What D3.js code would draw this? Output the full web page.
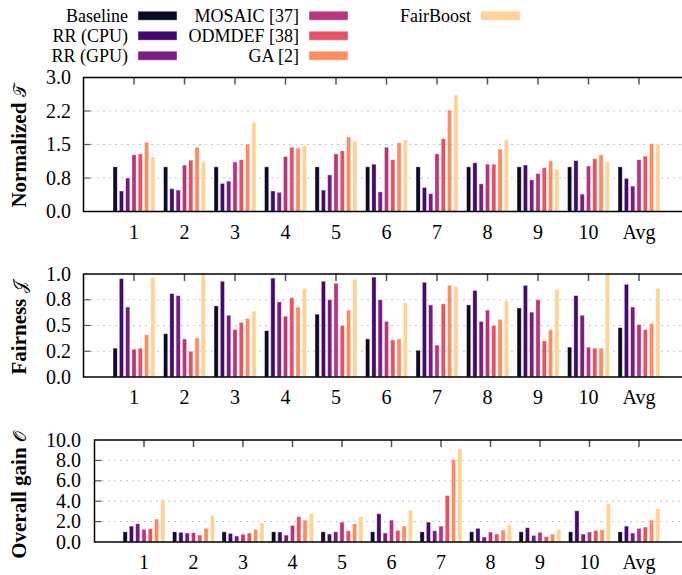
<!DOCTYPE html>
<html>
<head>
<meta charset="utf-8">
<script src="https://cdn.jsdelivr.net/npm/d3@7"></script>
<style>
  body { margin: 0; background: #fff; }
  text { font-family: "Liberation Serif", "Times New Roman", "DejaVu Serif", serif; }
</style>
</head>
<body>
<svg id="chart" width="682" height="575"></svg>
<script>
const groups = ["1", "2", "3", "4", "5", "6", "7", "8", "9", "10", "Avg"];
const methods = ["Baseline", "RR (CPU)", "RR (GPU)", "MOSAIC [37]", "ODMDEF [38]", "GA [2]", "FairBoost"];
const colors = ["#0c0927", "#420a6e", "#7b1c80", "#b5367a", "#e75263", "#fc8c62", "#fed395"];

// one row per method, one value per group
const normalizedT = [
  [1.0, 1.0, 1.0, 1.0, 1.0, 1.0, 1.0, 1.0, 1.0, 1.0, 1.0],
  [0.46, 0.51, 0.63, 0.46, 0.48, 1.06, 0.54, 1.09, 1.04, 1.14, 0.74],
  [0.75, 0.48, 0.68, 0.43, 0.82, 0.44, 0.40, 0.62, 0.71, 0.39, 0.57],
  [1.27, 1.04, 1.11, 1.23, 1.29, 1.44, 1.29, 1.06, 0.85, 1.02, 1.16],
  [1.29, 1.15, 1.16, 1.44, 1.36, 1.16, 1.63, 1.06, 0.98, 1.18, 1.24],
  [1.55, 1.44, 1.51, 1.42, 1.67, 1.54, 2.27, 1.40, 1.13, 1.27, 1.52],
  [1.22, 1.11, 2.00, 1.47, 1.58, 1.60, 2.61, 1.60, 0.95, 1.11, 1.52]
];
const fairness = [
  [0.28, 0.42, 0.69, 0.45, 0.61, 0.37, 0.26, 0.70, 0.67, 0.29, 0.48],
  [0.955, 0.81, 0.93, 0.96, 0.93, 0.97, 0.92, 0.84, 0.89, 0.79, 0.90],
  [0.68, 0.79, 0.60, 0.73, 0.75, 0.75, 0.70, 0.54, 0.63, 0.60, 0.68],
  [0.27, 0.37, 0.46, 0.59, 0.91, 0.54, 0.31, 0.65, 0.75, 0.29, 0.51],
  [0.28, 0.25, 0.53, 0.77, 0.50, 0.36, 0.71, 0.50, 0.35, 0.28, 0.46],
  [0.41, 0.38, 0.57, 0.68, 0.65, 0.37, 0.89, 0.56, 0.46, 0.28, 0.52],
  [0.965, 1.0, 0.64, 0.86, 0.95, 0.72, 0.88, 0.74, 0.85, 1.0, 0.86]
];
const overallGain = [
  [1.0, 1.0, 1.0, 1.0, 1.0, 1.0, 1.0, 1.0, 1.0, 1.0, 1.0],
  [1.56, 0.95, 0.85, 0.98, 0.78, 2.77, 1.95, 1.34, 1.40, 3.06, 1.56],
  [1.79, 0.88, 0.59, 0.68, 1.0, 0.88, 1.10, 0.49, 0.65, 0.78, 0.88],
  [1.24, 0.91, 0.75, 1.63, 1.95, 2.15, 1.56, 0.98, 0.95, 0.98, 1.34],
  [1.30, 0.68, 0.88, 2.51, 1.10, 1.14, 4.56, 0.78, 0.52, 1.14, 1.47],
  [2.25, 1.34, 1.24, 2.15, 1.79, 1.56, 8.08, 1.17, 0.78, 1.20, 2.15],
  [4.17, 2.60, 1.86, 2.80, 2.48, 3.13, 9.09, 1.69, 1.24, 3.75, 3.29]
];

const yTicksT = [0, 0.75, 1.5, 2.25, 3];
const yLabelsT = ["0.0", "0.8", "1.5", "2.2", "3.0"];
const yTicksF = [0, 0.25, 0.5, 0.75, 1];
const yLabelsF = ["0.0", "0.2", "0.5", "0.8", "1.0"];
const yTicksG = [0, 2, 4, 6, 8, 10];
const yLabelsG = ["0.0", "2.0", "4.0", "6.0", "8.0", "10.0"];

const panels = [
  { data: normalizedT, title: "Normalized ", sym: "\u{1D4AF}", domain: [0, 3], ticks: yTicksT, labels: yLabelsT,
    left: 83.5, step: 50.5, top: 77.5, bottom: 211.5, labelX: 71, titleY: 146 },
  { data: fairness, title: "Fairness ", sym: "\u{1D4A5}", domain: [0, 1], ticks: yTicksF, labels: yLabelsF,
    left: 83.5, step: 50.5, top: 274, bottom: 377, labelX: 71, titleY: 328 },
  { data: overallGain, title: "Overall gain ", sym: "\u{1D4AA}", domain: [0, 10], ticks: yTicksG, labels: yLabelsG,
    left: 94.5, step: 49.5, top: 440, bottom: 542, labelX: 81, titleY: 495 }
];

const svg = d3.select("#chart");
const W = 682;

const inner = d3.scaleBand()
  .domain(methods)
  .range([-21, 21])
  .paddingInner(0.32);

panels.forEach((p, pi) => {
  const x = d3.scaleLinear().domain([0, 12]).range([p.left, p.left + 12 * p.step]);
  const y = d3.scaleLinear().domain(p.domain).range([p.bottom, p.top]);
  const g = svg.append("g");

  const clipId = "clip" + pi;
  svg.append("clipPath").attr("id", clipId)
    .append("rect")
    .attr("x", p.left).attr("y", p.top)
    .attr("width", W - p.left).attr("height", p.bottom - p.top);

  // dotted grid
  g.selectAll("line.grid")
    .data(p.ticks.slice(1, -1))
    .enter().append("line")
    .attr("x1", p.left + 8).attr("x2", W)
    .attr("y1", d => y(d)).attr("y2", d => y(d))
    .attr("stroke", "#888").attr("stroke-width", 1)
    .attr("stroke-dasharray", "1,5");

  // y ticks
  g.selectAll("line.ytick")
    .data(p.ticks.slice(1, -1))
    .enter().append("line")
    .attr("x1", p.left).attr("x2", p.left + 7)
    .attr("y1", d => y(d)).attr("y2", d => y(d))
    .attr("stroke", "#555").attr("stroke-width", 1.2);

  // x ticks, top and bottom
  g.selectAll("line.xtick")
    .data(groups)
    .enter().append("line")
    .attr("x1", (d, i) => x(i + 1)).attr("x2", (d, i) => x(i + 1))
    .attr("y1", p.top).attr("y2", p.top + 7)
    .attr("stroke", "#555").attr("stroke-width", 1.5);
  g.selectAll("line.xtickb")
    .data(groups)
    .enter().append("line")
    .attr("x1", (d, i) => x(i + 1)).attr("x2", (d, i) => x(i + 1))
    .attr("y1", p.bottom).attr("y2", p.bottom - 7)
    .attr("stroke", "#555").attr("stroke-width", 1.5);

  // bars
  const bars = g.append("g").attr("clip-path", `url(#${clipId})`);
  p.data.forEach((row, mi) => {
    bars.selectAll(null)
      .data(row)
      .enter().append("rect")
      .attr("x", (d, i) => x(i + 1) + inner(methods[mi]))
      .attr("width", inner.bandwidth())
      .attr("y", d => y(d))
      .attr("height", d => y(0) - y(d))
      .attr("fill", colors[mi])
      .attr("stroke", "rgba(255,255,255,0.55)")
      .attr("stroke-width", 0.8);
  });

  // frame: left, top, bottom
  g.append("path")
    .attr("d", `M${W},${p.top}H${p.left}V${p.bottom}H${W}`)
    .attr("fill", "none")
    .attr("stroke", "#000")
    .attr("stroke-width", 1.5);

  // y tick labels
  g.selectAll("text.ylab")
    .data(p.ticks)
    .enter().append("text")
    .attr("x", p.labelX)
    .attr("y", d => y(d) + 6.5)
    .attr("text-anchor", "end")
    .attr("font-size", 20)
    .text((d, i) => p.labels[i]);

  // x tick labels
  g.selectAll("text.xlab")
    .data(groups)
    .enter().append("text")
    .attr("x", (d, i) => x(i + 1))
    .attr("y", p.bottom + 27)
    .attr("text-anchor", "middle")
    .attr("font-size", 20)
    .text(d => d);

  // axis title
  const t = g.append("text")
    .attr("transform", `translate(26,${p.titleY}) rotate(-90)`)
    .attr("text-anchor", "middle")
    .attr("font-size", 21)
    .attr("font-weight", "bold")
    .text(p.title);
  t.append("tspan")
    .attr("font-weight", "normal")
    .attr("font-size", 17)
    .text(p.sym);
});

// legend, three rows per column
const legendCols = [{ textX: 128, swatchX: 138 }, { textX: 299, swatchX: 309 }, { textX: 471, swatchX: 481 }];
const legend = svg.append("g");
methods.forEach((m, i) => {
  const col = legendCols[Math.floor(i / 3)];
  const cy = 15.7 + (i % 3) * 20;
  legend.append("text")
    .attr("x", col.textX)
    .attr("y", cy + 6.5)
    .attr("text-anchor", "end")
    .attr("font-size", 18)
    .text(m);
  legend.append("rect")
    .attr("x", col.swatchX)
    .attr("y", cy - 4.5)
    .attr("width", 39)
    .attr("height", 9)
    .attr("fill", colors[i])
    .attr("stroke", "rgba(255,255,255,0.55)")
    .attr("stroke-width", 0.8);
});
</script>
</body>
</html>
